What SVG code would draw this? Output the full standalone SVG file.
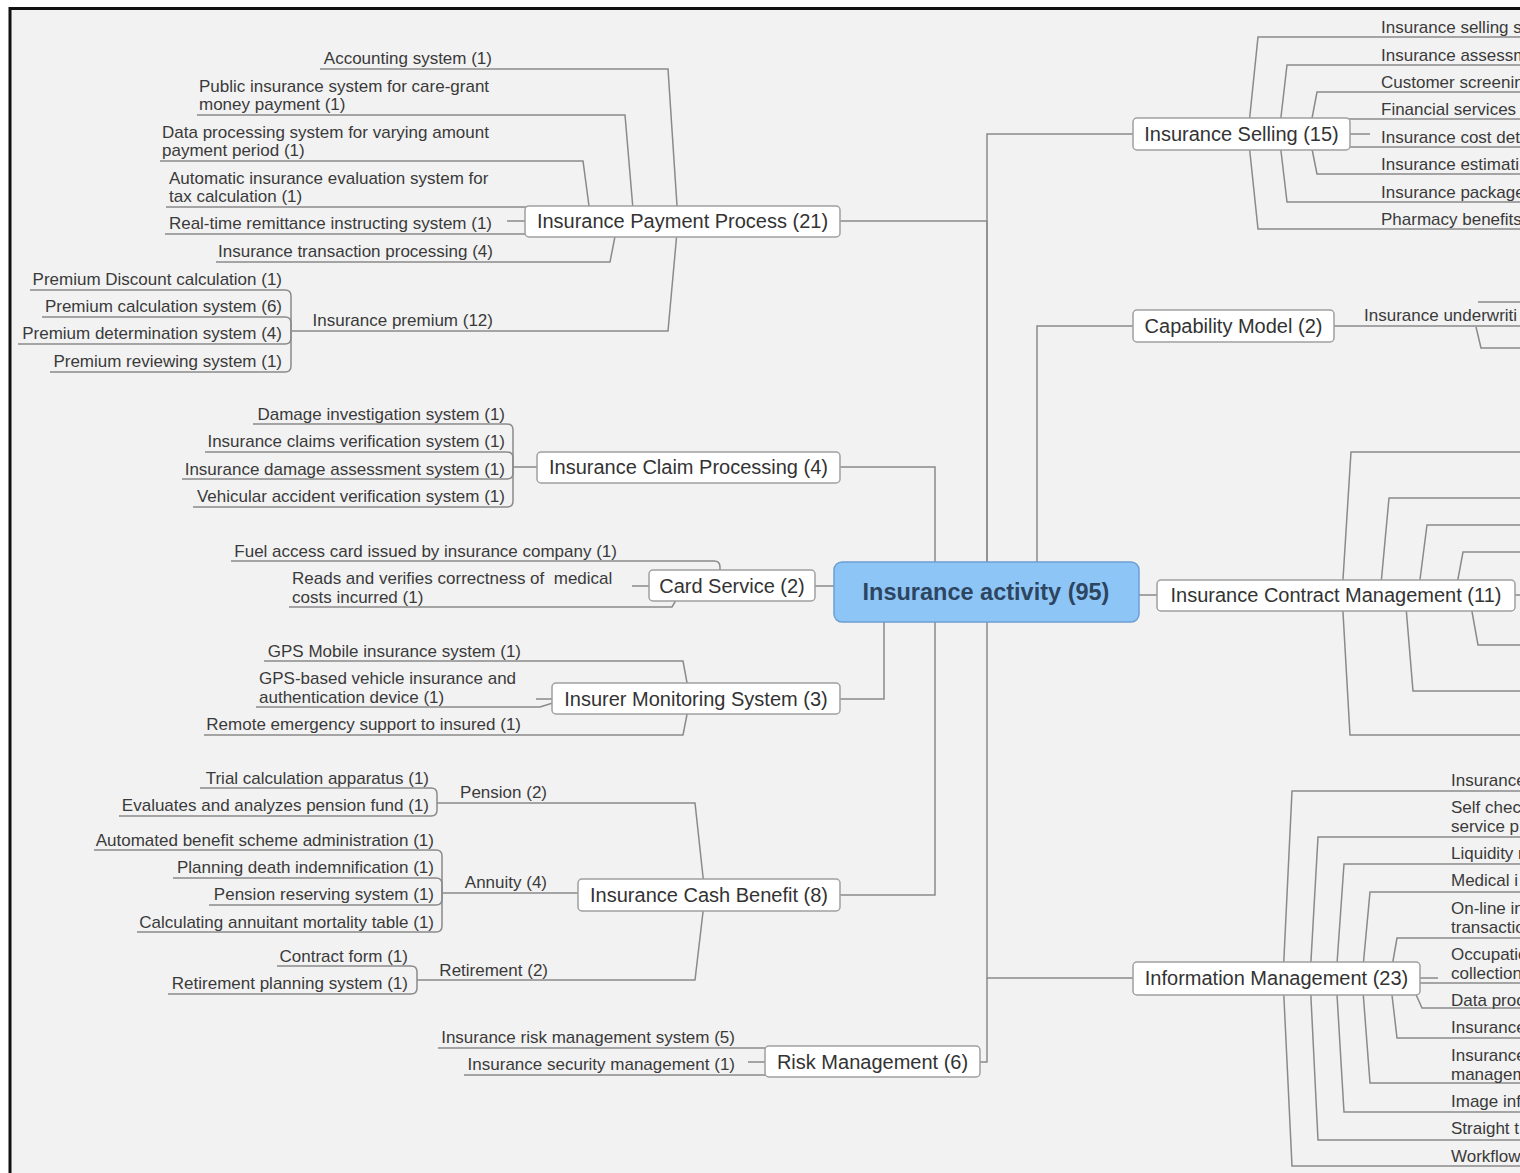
<svg xmlns="http://www.w3.org/2000/svg" width="1520" height="1173" viewBox="0 0 1520 1173">
<style>
.ln{fill:none;stroke:#8a8a8a;stroke-width:1.5}
.bx{fill:#ffffff;stroke:#a0a0a0;stroke-width:1.5}
.tb{font-family:"Liberation Sans",Arial,sans-serif;font-size:20px;fill:#333333;text-anchor:middle}
.tl{font-family:"Liberation Sans",Arial,sans-serif;font-size:17px;fill:#3a3a3a}
.e{text-anchor:end}
.rt{font-family:"Liberation Sans",Arial,sans-serif;font-size:23.5px;font-weight:bold;fill:#2d4560;text-anchor:middle}
</style>
<rect width="1520" height="1173" fill="#ffffff"/>
<rect x="10" y="8.5" width="1530" height="1200" fill="#f2f2f2" stroke="#111111" stroke-width="3"/>

<g id="connectors" class="ln">
  <!-- main branches -->
  <path d="M840,221 H987 V592"/>
  <path d="M987,592 V134 H1133"/>
  <path d="M840,467 H935 V592"/>
  <path d="M1037,592 V326 H1133"/>
  <path d="M815,586 H834"/>
  <path d="M1139,595 H1157"/>
  <path d="M840,699 H884 V592"/>
  <path d="M840,895 H935 V592"/>
  <path d="M987,592 V978 H1133"/>
  <path d="M980,1062 H987 V978"/>
  <!-- payment process -->
  <path d="M320,69 H668 L678,221"/>
  <path d="M197,115 H625 L634,221"/>
  <path d="M160,161 H583 L591,221"/>
  <path d="M166,207 H545"/>
  <path d="M165,234 H545"/>
  <path d="M507,221 H530"/>
  <path d="M216,262 H610 L618,221"/>
  <path d="M291,331 H668 L678,221"/>
  <path d="M30,290 H285 Q291,290 291,296 V331"/>
  <path d="M42,317 H285 Q291,317 291,323 V331"/>
  <path d="M18,344 H285 Q291,344 291,338 V331"/>
  <path d="M50,372 H285 Q291,372 291,366 V331"/>
  <!-- claim processing -->
  <path d="M253,424 H507 Q513,424 513,430 V467"/>
  <path d="M205,452 H507 Q513,452 513,458 V467"/>
  <path d="M182,479 H507 Q513,479 513,473 V467"/>
  <path d="M193,507 H507 Q513,507 513,501 V467"/>
  <path d="M513,467 H540"/>
  <!-- card service -->
  <path d="M231,561 H714 Q720,561 720,567 V586"/>
  <path d="M289,607 H672 L682,590"/>
  <path d="M632,586 H652"/>
  <!-- insurer monitoring -->
  <path d="M264,661 H683 L690,699"/>
  <path d="M256,707 H540 L556,702"/>
  <path d="M536,699 H555"/>
  <path d="M204,735 H683 L690,699"/>
  <!-- cash benefit -->
  <path d="M437,803 H695 L705,895"/>
  <path d="M442,893 H582"/>
  <path d="M417,980 H695 L705,895"/>
  <path d="M200,788 H431 Q437,788 437,794 V803"/>
  <path d="M119,816 H431 Q437,816 437,810 V803"/>
  <path d="M94,850 H436 Q442,850 442,856 V893"/>
  <path d="M173,878 H436 Q442,878 442,884 V893"/>
  <path d="M209,905 H436 Q442,905 442,899 V893"/>
  <path d="M137,932 H436 Q442,932 442,926 V893"/>
  <path d="M277,966 H411 Q417,966 417,972 V980"/>
  <path d="M168,994 H411 Q417,994 417,988 V980"/>
  <!-- risk management -->
  <path d="M438,1048 H765 L785,1058"/>
  <path d="M464,1075 H765 L785,1066"/>
  <path d="M748,1062 H770"/>
  <!-- insurance selling -->
  <path d="M1520,37 H1258 L1248,134"/>
  <path d="M1520,65 H1287 L1279,134"/>
  <path d="M1520,92 H1317 L1309,134"/>
  <path d="M1340,119 H1520"/>
  <path d="M1350,134 H1370"/>
  <path d="M1340,147 H1520"/>
  <path d="M1520,174 H1317 L1309,134"/>
  <path d="M1520,202 H1287 L1279,134"/>
  <path d="M1520,229 H1258 L1248,134"/>
  <!-- capability model -->
  <path d="M1334,326 H1520"/>
  <path d="M1478,302 H1520"/>
  <path d="M1476,327 L1481,348 H1520"/>
  <!-- contract management -->
  <path d="M1520,452 H1351 L1342,595"/>
  <path d="M1520,498 H1389 L1380,595"/>
  <path d="M1520,525 H1427 L1418,595"/>
  <path d="M1520,552 H1463 L1455,595"/>
  <path d="M1520,645 H1478 L1469,595"/>
  <path d="M1520,691 H1413 L1405,595"/>
  <path d="M1520,735 H1350 L1342,595"/>
  <path d="M1515,595 H1520"/>
  <!-- information management -->
  <path d="M1520,791 H1292 L1283,978"/>
  <path d="M1520,837 H1318 L1310,978"/>
  <path d="M1520,864 H1344 L1336,978"/>
  <path d="M1520,892 H1370 L1362,978"/>
  <path d="M1520,938 H1397 L1390,978"/>
  <path d="M1410,983 H1520"/>
  <path d="M1414,990 L1422,1008 H1520"/>
  <path d="M1520,1038 H1397 L1390,978"/>
  <path d="M1520,1083 H1370 L1362,978"/>
  <path d="M1520,1112 H1344 L1336,978"/>
  <path d="M1520,1140 H1318 L1310,978"/>
  <path d="M1520,1166 H1292 L1283,978"/>
  <path d="M1420,978 H1438"/>
</g>

<g id="root">
  <rect x="834" y="562" width="305" height="60" rx="8" fill="#8ec5f7" stroke="#6d9fd2" stroke-width="1.5"/>
  <text class="rt" x="986" y="600">Insurance activity (95)</text>
</g>

<g id="payment-process"><rect class="bx" x="525" y="206" width="315" height="31" rx="4"/><text class="tb" x="682.5" y="228">Insurance Payment Process (21)</text></g>
<g id="claim-processing"><rect class="bx" x="537" y="452" width="303" height="31" rx="4"/><text class="tb" x="688.5" y="474">Insurance Claim Processing (4)</text></g>
<g id="card-service"><rect class="bx" x="649" y="570" width="166" height="31" rx="4"/><text class="tb" x="732" y="593">Card Service (2)</text></g>
<g id="insurer-monitoring"><rect class="bx" x="552" y="683" width="288" height="31" rx="4"/><text class="tb" x="696" y="706">Insurer Monitoring System (3)</text></g>
<g id="cash-benefit"><rect class="bx" x="578" y="879" width="262" height="32" rx="4"/><text class="tb" x="709" y="902">Insurance Cash Benefit (8)</text></g>
<g id="risk-management"><rect class="bx" x="765" y="1046" width="215" height="31" rx="4"/><text class="tb" x="872.5" y="1069">Risk Management (6)</text></g>
<g id="insurance-selling"><rect class="bx" x="1133" y="118" width="217" height="32" rx="4"/><text class="tb" x="1241.5" y="141">Insurance Selling (15)</text></g>
<g id="capability-model"><rect class="bx" x="1133" y="310" width="201" height="32" rx="4"/><text class="tb" x="1233.5" y="333">Capability Model (2)</text></g>
<g id="contract-management"><rect class="bx" x="1157" y="580" width="358" height="31" rx="4"/><text class="tb" x="1336" y="602">Insurance Contract Management (11)</text></g>
<g id="information-management"><rect class="bx" x="1133" y="962" width="287" height="33" rx="4"/><text class="tb" x="1276.5" y="985">Information Management (23)</text></g>

<!-- payment leaves -->
<g id="accounting"><text class="tl e" x="492" y="64">Accounting system (1)</text></g>
<g id="public-insurance"><text class="tl" x="199"><tspan x="199" y="92">Public insurance system for care-grant</tspan><tspan x="199" y="110">money payment (1)</tspan></text></g>
<g id="data-processing"><text class="tl" x="162"><tspan x="162" y="138">Data processing system for varying amount</tspan><tspan x="162" y="156">payment period (1)</tspan></text></g>
<g id="automatic-evaluation"><text class="tl" x="169"><tspan x="169" y="184">Automatic insurance evaluation system for</tspan><tspan x="169" y="202">tax calculation (1)</tspan></text></g>
<g id="real-time-remittance"><text class="tl e" x="492" y="229">Real-time remittance instructing system (1)</text></g>
<g id="transaction-processing"><text class="tl e" x="493" y="257">Insurance transaction processing (4)</text></g>
<g id="insurance-premium"><text class="tl e" x="493" y="326">Insurance premium (12)</text></g>
<g id="premium-discount"><text class="tl e" x="282" y="285">Premium Discount calculation (1)</text></g>
<g id="premium-calculation"><text class="tl e" x="282" y="312">Premium calculation system (6)</text></g>
<g id="premium-determination"><text class="tl e" x="282" y="339">Premium determination system (4)</text></g>
<g id="premium-reviewing"><text class="tl e" x="282" y="367">Premium reviewing system (1)</text></g>

<!-- claim leaves -->
<g id="damage-investigation"><text class="tl e" x="505" y="420">Damage investigation system (1)</text></g>
<g id="claims-verification"><text class="tl e" x="505" y="447">Insurance claims verification system (1)</text></g>
<g id="damage-assessment"><text class="tl e" x="505" y="475">Insurance damage assessment system (1)</text></g>
<g id="vehicular-accident"><text class="tl e" x="505" y="502">Vehicular accident verification system (1)</text></g>

<!-- card leaves -->
<g id="fuel-card"><text class="tl e" x="617" y="557">Fuel access card issued by insurance company (1)</text></g>
<g id="reads-verifies"><text class="tl" x="292"><tspan x="292" y="584">Reads and verifies correctness of&#160; medical</tspan><tspan x="292" y="603">costs incurred (1)</tspan></text></g>

<!-- insurer monitoring leaves -->
<g id="gps-mobile"><text class="tl e" x="521" y="657">GPS Mobile insurance system (1)</text></g>
<g id="gps-vehicle"><text class="tl" x="259"><tspan x="259" y="684">GPS-based vehicle insurance and</tspan><tspan x="259" y="703">authentication device (1)</tspan></text></g>
<g id="remote-emergency"><text class="tl e" x="521" y="730">Remote emergency support to insured (1)</text></g>

<!-- cash benefit -->
<g id="pension"><text class="tl e" x="547" y="798">Pension (2)</text></g>
<g id="annuity"><text class="tl e" x="547" y="888">Annuity (4)</text></g>
<g id="retirement"><text class="tl e" x="548" y="976">Retirement (2)</text></g>
<g id="trial-calculation"><text class="tl e" x="429" y="784">Trial calculation apparatus (1)</text></g>
<g id="pension-fund"><text class="tl e" x="429" y="811">Evaluates and analyzes pension fund (1)</text></g>
<g id="automated-benefit"><text class="tl e" x="434" y="846">Automated benefit scheme administration (1)</text></g>
<g id="death-indemnification"><text class="tl e" x="434" y="873">Planning death indemnification (1)</text></g>
<g id="pension-reserving"><text class="tl e" x="434" y="900">Pension reserving system (1)</text></g>
<g id="mortality-table"><text class="tl e" x="434" y="928">Calculating annuitant mortality table (1)</text></g>
<g id="contract-form"><text class="tl e" x="408" y="962">Contract form (1)</text></g>
<g id="retirement-planning"><text class="tl e" x="408" y="989">Retirement planning system (1)</text></g>

<!-- risk leaves -->
<g id="risk-system"><text class="tl e" x="735" y="1043">Insurance risk management system (5)</text></g>
<g id="security-management"><text class="tl e" x="735" y="1070">Insurance security management (1)</text></g>

<!-- selling leaves -->
<g id="sell-1"><text class="tl" x="1381" y="33">Insurance selling s</text></g>
<g id="sell-2"><text class="tl" x="1381" y="61">Insurance assessm</text></g>
<g id="sell-3"><text class="tl" x="1381" y="88">Customer screenin</text></g>
<g id="sell-4"><text class="tl" x="1381" y="115">Financial services</text></g>
<g id="sell-5"><text class="tl" x="1381" y="143">Insurance cost det</text></g>
<g id="sell-6"><text class="tl" x="1381" y="170">Insurance estimati</text></g>
<g id="sell-7"><text class="tl" x="1381" y="198">Insurance package</text></g>
<g id="sell-8"><text class="tl" x="1381" y="225">Pharmacy benefits</text></g>

<!-- capability leaf -->
<g id="underwriting"><text class="tl" x="1364" y="321">Insurance underwriti</text></g>

<!-- information management leaves -->
<g id="info-1"><text class="tl" x="1451" y="786">Insurance</text></g>
<g id="info-2"><text class="tl" x="1451"><tspan x="1451" y="813">Self chec</tspan><tspan x="1451" y="832">service p</tspan></text></g>
<g id="info-3"><text class="tl" x="1451" y="859">Liquidity r</text></g>
<g id="info-4"><text class="tl" x="1451" y="886">Medical i</text></g>
<g id="info-5"><text class="tl" x="1451"><tspan x="1451" y="914">On-line in</tspan><tspan x="1451" y="933">transactio</tspan></text></g>
<g id="info-6"><text class="tl" x="1451"><tspan x="1451" y="960">Occupatio</tspan><tspan x="1451" y="979">collection</tspan></text></g>
<g id="info-7"><text class="tl" x="1451" y="1006">Data proc</text></g>
<g id="info-8"><text class="tl" x="1451" y="1033">Insurance</text></g>
<g id="info-9"><text class="tl" x="1451"><tspan x="1451" y="1061">Insurance</tspan><tspan x="1451" y="1080">managem</tspan></text></g>
<g id="info-10"><text class="tl" x="1451" y="1107">Image inf</text></g>
<g id="info-11"><text class="tl" x="1451" y="1134">Straight t</text></g>
<g id="info-12"><text class="tl" x="1451" y="1162">Workflow</text></g>
</svg>
